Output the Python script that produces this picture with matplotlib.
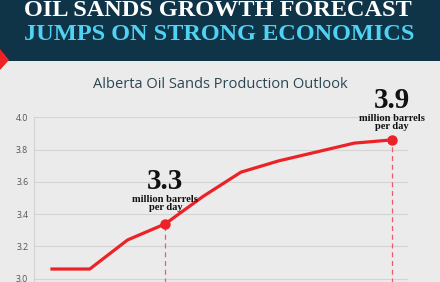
import numpy as np
import matplotlib.pyplot as plt
from matplotlib.patches import Rectangle, Polygon

# Alberta oil sands production outlook, million barrels per day
years = np.arange(10)
production = [3.06, 3.06, 3.24, 3.34, 3.51, 3.66, 3.73, 3.785, 3.84, 3.86]
highlight = [3, 9]
highlight_big = ["3.3", "3.9"]
yticks = [3.0, 3.2, 3.4, 3.6, 3.8, 4.0]

W, H = 440, 282
RED = '#ec2227'
NAVY = '#0f3447'
CYAN = '#4fd2f3'
BG = '#ebebeb'


def fy(py):
    return 1 - py / H


fig = plt.figure(figsize=(W / 100, H / 100), dpi=100)
fig.patch.set_facecolor(BG)

# header band
fig.patches.append(Rectangle((0, fy(61)), 1, 61 / H, transform=fig.transFigure,
                             facecolor=NAVY, edgecolor='none', zorder=0))
fig.patches.append(Polygon([(0, fy(49)), (9 / W, fy(60)), (0, fy(70))], closed=True,
                           transform=fig.transFigure, facecolor=RED,
                           edgecolor='none', zorder=1))
fig.text(218 / W, fy(16), "OIL SANDS GROWTH FORECAST", color='white',
         fontsize=17.5, fontweight='bold', family='Liberation Serif',
         ha='center', va='baseline')
fig.text(219 / W, fy(40), "JUMPS ON STRONG ECONOMICS", color=CYAN,
         fontsize=17.5, fontweight='bold', family='Liberation Serif',
         ha='center', va='baseline')

fig.text(220 / W, fy(84), "Alberta Oil Sands Production Outlook", color='#2b4655',
         fontsize=10.5, family='Open Sans', ha='center', va='center')

# axes: 4.0 at y=117.3px, 3.0 at y=278.7px, extended below the figure
px_per_unit = (278.7 - 117.3) / 1.0
y_bottom = 278.7 + 0.3 * px_per_unit
ax_left, ax_right = 34.3, 407.7
ax = fig.add_axes([ax_left / W, fy(y_bottom), (ax_right - ax_left) / W,
                   (y_bottom - 117.3) / H])
ax.set_facecolor(BG)
step = (392 - 52) / 9
ax.set_xlim(-(52 - ax_left) / step, 9 + (ax_right - 392) / step)
ax.set_ylim(2.7, 4.0)
ax.set_yticks(yticks)
ax.set_yticklabels([f"{v:.1f}" for v in yticks], fontsize=6.3, color='#555555',
                   family='Open Sans')
ax.tick_params(axis='y', length=0, pad=4.3)
ax.set_xticks([])
ax.grid(axis='y', color='#d4d4d4', linewidth=0.8)
for s in ['top', 'right', 'bottom']:
    ax.spines[s].set_visible(False)
ax.spines['left'].set_color('#d4d4d4')
ax.spines['left'].set_linewidth(0.8)

ax.plot(years, production, color=RED, linewidth=2.3, solid_joinstyle='round', zorder=3)
big_off = [35, 32]
small_off = [12, 9]
for i, big, bo, so in zip(highlight, highlight_big, big_off, small_off):
    x, y = years[i], production[i]
    ax.plot([x], [y], 'o', color=RED, markersize=6.5, zorder=4)
    ax.plot([x, x], [2.7, y], color='#ee5a6a', linewidth=0.9, linestyle=(0, (4, 3)),
            zorder=2)
    ax.annotate(big, (x, y), xytext=(0, bo), textcoords='offset pixels',
                ha='center', va='baseline', fontsize=21, fontweight='bold',
                family='Liberation Serif', color='#111111')
    ax.annotate("million barrels\nper day", (x, y), xytext=(0, so),
                textcoords='offset pixels', ha='center', va='bottom',
                fontsize=7.6, fontweight='bold', family='Liberation Serif',
                color='#111111', linespacing=0.9)

fig.savefig('out.png', dpi=100, facecolor=BG)
